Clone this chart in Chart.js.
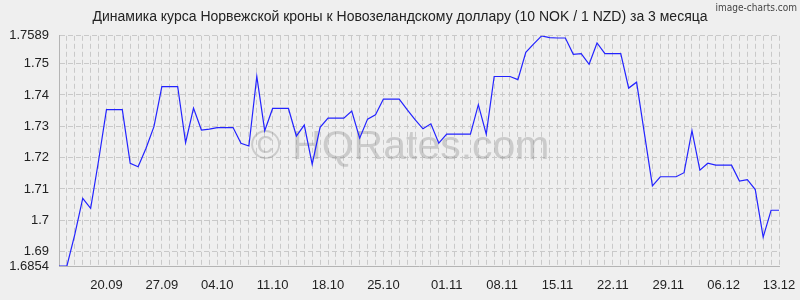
<!DOCTYPE html>
<html>
<head>
<meta charset="utf-8">
<script src="https://cdn.jsdelivr.net/npm/chart.js@4"></script>
<style>
  html, body { margin: 0; padding: 0; background: #efefef; }
  canvas { display: block; }
</style>
</head>
<body>
<canvas id="rateChart" width="800" height="300"></canvas>
<script>
// Daily rate, 10 NOK / 1 NZD (26.10 appears twice in the source series)
const dates = [
    '14.09', '15.09', '16.09', '17.09', '18.09', '19.09', '20.09', '21.09', '22.09', '23.09',
    '24.09', '25.09', '26.09', '27.09', '28.09', '29.09', '30.09', '01.10', '02.10', '03.10',
    '04.10', '05.10', '06.10', '07.10', '08.10', '09.10', '10.10', '11.10', '12.10', '13.10',
    '14.10', '15.10', '16.10', '17.10', '18.10', '19.10', '20.10', '21.10', '22.10', '23.10',
    '24.10', '25.10', '26.10', '26.10', '27.10', '28.10', '29.10', '30.10', '31.10', '01.11',
    '02.11', '03.11', '04.11', '05.11', '06.11', '07.11', '08.11', '09.11', '10.11', '11.11',
    '12.11', '13.11', '14.11', '15.11', '16.11', '17.11', '18.11', '19.11', '20.11', '21.11',
    '22.11', '23.11', '24.11', '25.11', '26.11', '27.11', '28.11', '29.11', '30.11', '01.12',
    '02.12', '03.12', '04.12', '05.12', '06.12', '07.12', '08.12', '09.12', '10.12', '11.12',
    '12.12', '13.12'
];

const rates = [
    1.6854, 1.6854, 1.6955, 1.7070, 1.7038, 1.7190, 1.7353, 1.7353, 1.7353, 1.7182,
    1.7171, 1.7230, 1.7299, 1.7427, 1.7427, 1.7427, 1.7248, 1.7358, 1.7288, 1.7291,
    1.7296, 1.7296, 1.7296, 1.7246, 1.7237, 1.7459, 1.7286, 1.7357, 1.7357, 1.7357,
    1.7269, 1.7304, 1.7179, 1.7297, 1.7326, 1.7326, 1.7326, 1.7349, 1.7262, 1.7323,
    1.7337, 1.7387, 1.7387, 1.7387, 1.7353, 1.7321, 1.7292, 1.7308, 1.7246, 1.7275,
    1.7275, 1.7275, 1.7275, 1.7369, 1.7275, 1.7459, 1.7459, 1.7459, 1.7449, 1.7536,
    1.7563, 1.7589, 1.7583, 1.7582, 1.7582, 1.7530, 1.7532, 1.7498, 1.7566, 1.7532,
    1.7532, 1.7532, 1.7422, 1.7441, 1.7275, 1.7110, 1.7139, 1.7139, 1.7139, 1.7152,
    1.7286, 1.7160, 1.7182, 1.7176, 1.7176, 1.7176, 1.7125, 1.7130, 1.7098, 1.6946,
    1.7032, 1.7032
];

const tickDates = ['20.09', '27.09', '04.10', '11.10', '18.10', '25.10', '01.11',
                   '08.11', '15.11', '22.11', '29.11', '06.12', '13.12'];
const yTicks = [1.6854, 1.69, 1.7, 1.71, 1.72, 1.73, 1.74, 1.75, 1.7589];
const yTickLabels = ['1.6854', '1.69', '1.7', '1.71', '1.72', '1.73', '1.74', '1.75', '1.7589'];

const gridColor = '#c9c9c9';
const axisColor = '#b4b4b4';
const fontFamily = '"Liberation Sans", Arial, sans-serif';

// watermark text and the small credit in the corner
const overlays = {
    id: 'overlays',
    beforeDatasetsDraw(chart) {
        const ctx = chart.ctx;
        ctx.save();
        ctx.font = '41px ' + fontFamily;
        ctx.fillStyle = 'rgba(120,120,120,0.3)';
        ctx.textAlign = 'center';
        ctx.textBaseline = 'middle';
        ctx.fillText('© HQRates.com', 400, 148);
        ctx.restore();
    },
    afterDraw(chart) {
        const ctx = chart.ctx;
        ctx.save();
        ctx.font = '10px "Liberation Sans Narrow", "DejaVu Sans Condensed", sans-serif';
        ctx.fillStyle = '#444';
        ctx.textAlign = 'right';
        ctx.textBaseline = 'top';
        ctx.fillText('image-charts.com', 797, 3);
        ctx.restore();
    }
};

const ctx = document.getElementById('rateChart').getContext('2d');
new Chart(ctx, {
    type: 'line',
    data: {
        labels: dates,
        datasets: [{
            data: rates,
            borderColor: '#2323ff',
            borderWidth: 1.2,
            pointRadius: 0,
            tension: 0,
            fill: false
        }]
    },
    options: {
        responsive: false,
        animation: false,
        events: [],
        layout: { padding: 0 },
        plugins: {
            legend: { display: false },
            tooltip: { enabled: false },
            title: {
                display: true,
                text: 'Динамика курса Норвежской кроны к Новозеландскому доллару (10 NOK / 1 NZD) за 3 месяца',
                color: '#222',
                font: { family: fontFamily, size: 14, weight: 'normal' },
                padding: { top: 9, bottom: 10 }
            }
        },
        scales: {
            x: {
                grid: { color: gridColor, lineWidth: 1, drawTicks: false },
                border: { display: true, color: axisColor, dash: [5, 3] },
                ticks: {
                    autoSkip: false,
                    maxRotation: 0,
                    padding: 12,
                    color: '#222',
                    font: { family: fontFamily, size: 13 },
                    callback: function (value) {
                        const d = this.getLabelForValue(value);
                        return tickDates.includes(d) && dates.indexOf(d) === value ? d : '';
                    }
                },
                afterFit: function (scale) {
                    scale.height = 34;
                    scale.paddingLeft = 0;
                    scale.paddingRight = 21;
                }
            },
            y: {
                min: yTicks[0],
                max: yTicks[yTicks.length - 1],
                afterBuildTicks: function (scale) {
                    scale.ticks = yTicks.map(v => ({ value: v }));
                },
                grid: { color: gridColor, lineWidth: 1, drawTicks: false },
                border: { display: true, color: axisColor, dash: [5, 3] },
                ticks: {
                    padding: 10,
                    color: '#222',
                    font: { family: fontFamily, size: 13 },
                    callback: function (value, index) { return yTickLabels[index]; }
                },
                afterFit: function (scale) { scale.width = 59; }
            }
        }
    },
    plugins: [overlays]
});
</script>
</body>
</html>
